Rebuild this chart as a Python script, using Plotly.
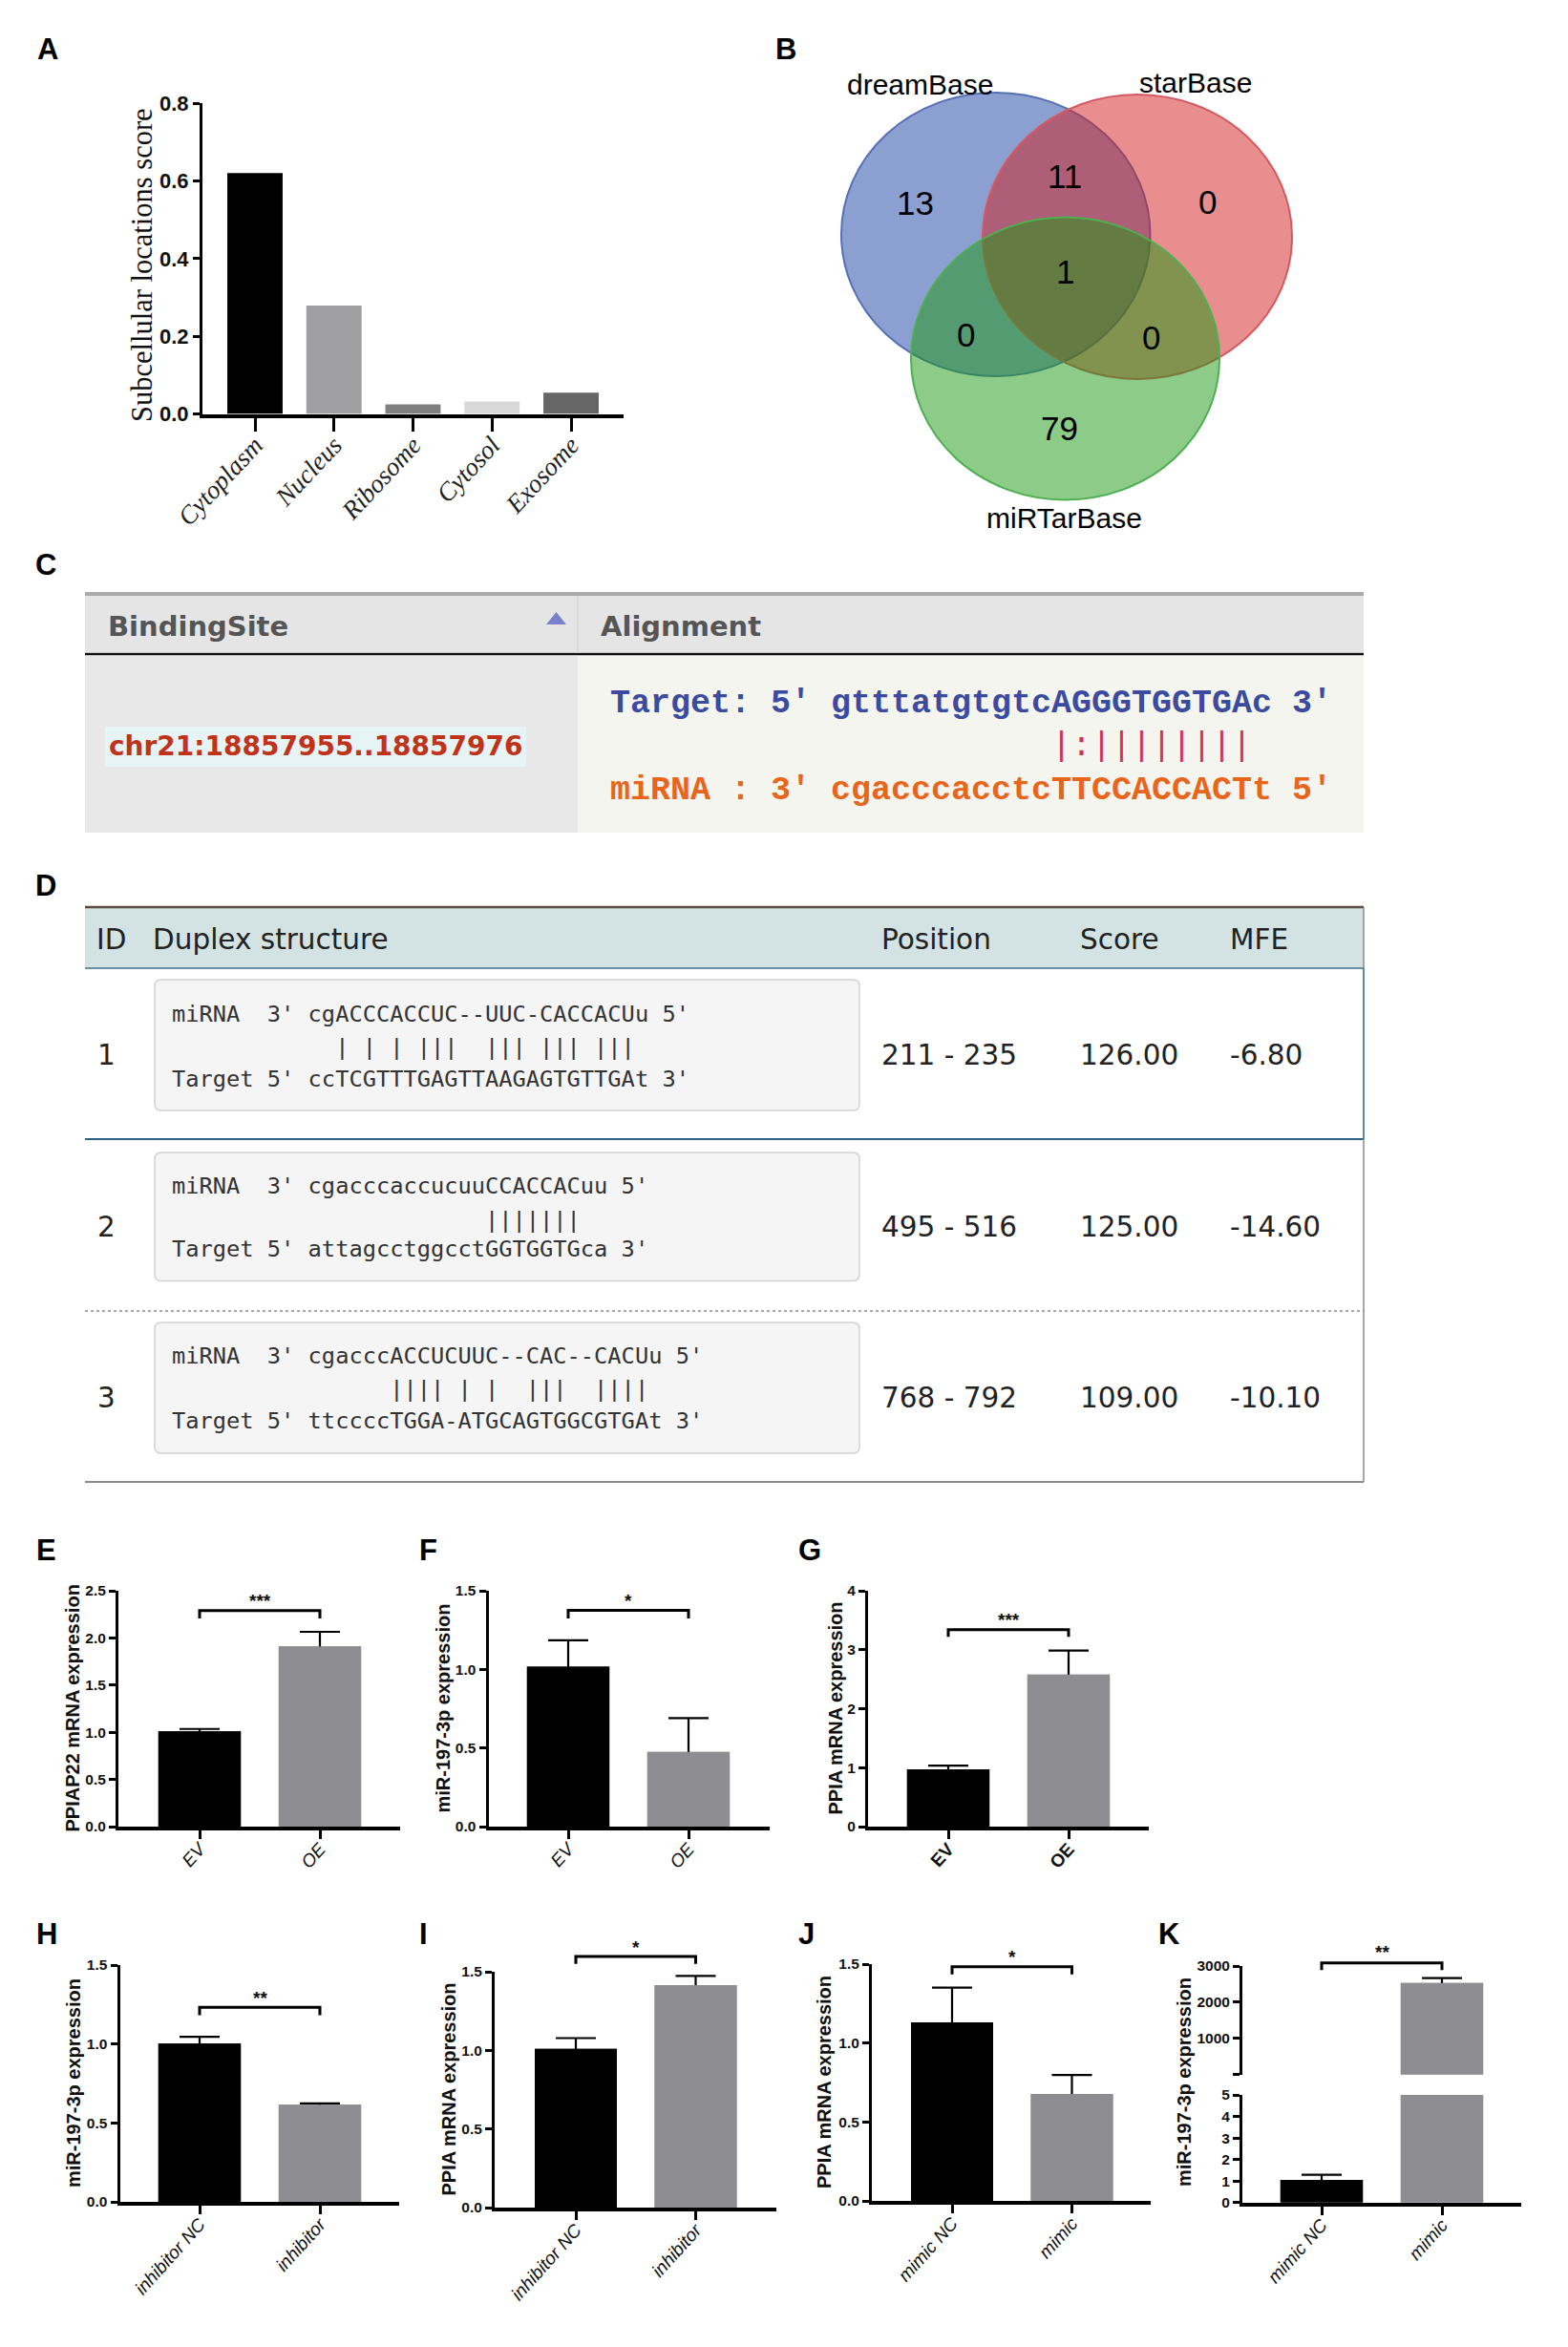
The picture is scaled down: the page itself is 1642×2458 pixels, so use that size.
"""Painéis A-K: barras de expressão, Venn e tabelas de alinhamento."""

import plotly.graph_objects as go

W, H = 1642, 2458
SANS = "Liberation Sans"
SERIF = "Liberation Serif"
MONO = "DejaVu Sans Mono"
BLACK = "#000000"
GREY = "#8e8e92"
BRACKET_ROOM = 70    # px acima do eixo reservados a colchetes e asteriscos

# --- painel A
A_CATS = ["Cytoplasm", "Nucleus", "Ribosome", "Cytosol", "Exosome"]
A_VALUES = [0.62, 0.279, 0.025, 0.032, 0.055]
A_COLORS = [BLACK, "#a0a0a3", "#808080", "#d9d9d9", "#666666"]
A_TICKS = [0, 0.2, 0.4, 0.6, 0.8]

# --- painel B
VENN_NAMES = ["dreamBase", "starBase", "miRTarBase"]
VENN_COUNTS = ["13", "11", "0", "1", "0", "0", "79"]

# --- painel C
C_HEADERS = ["BindingSite", "Alignment"]
C_SITE = "chr21:18857955..18857976"
C_TARGET = "Target: 5' gtttatgtgtcAGGGTGGTGAc 3'"
C_PAIRS = "                      |:||||||||"
C_MIRNA = "miRNA : 3' cgacccacctcTTCCACCACTt 5'"

# --- painel D
D_HEADERS = ["ID", "Duplex structure", "Position", "Score", "MFE"]
D_IDS = ["1", "2", "3"]
D_MIRNA = ["miRNA  3' cgACCCACCUC--UUC-CACCACUu 5'",
           "miRNA  3' cgacccaccucuuCCACCACuu 5'",
           "miRNA  3' cgacccACCUCUUC--CAC--CACUu 5'"]
D_PAIRS = ["            | | | |||  ||| ||| |||",
           "                       |||||||",
           "                |||| | |  |||  ||||"]
D_TARGET = ["Target 5' ccTCGTTTGAGTTAAGAGTGTTGAt 3'",
            "Target 5' attagcctggcctGGTGGTGca 3'",
            "Target 5' ttccccTGGA-ATGCAGTGGCGTGAt 3'"]
D_POSITION = ["211 - 235", "495 - 516", "768 - 792"]
D_SCORE = ["126.00", "125.00", "109.00"]
D_MFE = ["-6.80", "-14.60", "-10.10"]

# --- painéis E-K
OE_CATS = ["EV", "OE"]
INH_CATS = ["inhibitor NC", "inhibitor"]
MIM_CATS = ["mimic NC", "mimic"]
T25 = [0, 0.5, 1.0, 1.5, 2.0, 2.5]
T15 = [0, 0.5, 1.0, 1.5]
T4 = [0, 1, 2, 3, 4]

E_VALUES, E_ERRORS = [1.01, 1.91], [0.025, 0.155]
E_BRACKET = [2.207, 2.29]
F_VALUES, F_ERRORS = [1.017, 0.475], [0.168, 0.215]
F_BRACKET = [1.324, 1.375]
G_VALUES, G_ERRORS = [0.97, 2.577], [0.065, 0.41]
G_BRACKET = [3.22, 3.34]
H_VALUES, H_ERRORS = [1.003, 0.616], [0.043, 0.008]
H_BRACKET = [1.183, 1.232]
I_VALUES, I_ERRORS = [1.009, 1.415], [0.069, 0.059]
I_BRACKET = [1.55, 1.597]
J_VALUES, J_ERRORS = [1.131, 0.677], [0.22, 0.121]
J_BRACKET = [1.435, 1.484]
K_VALUES, K_ERRORS = [1.05, 2534], [0.237, 132]
K_BRACKET = [2886, 3088]
K_LOW_TICKS = [0, 1, 2, 3, 4, 5]
K_HIGH_TICKS = [0, 1000, 2000, 3000]
K_HIGH_LABELS = ["", "1000", "2000", "3000"]


def fx(px):
    return px / W


def fy(py):
    return 1 - py / H


def nb(text):
    return text.replace(" ", "\u00a0")


fig = go.Figure()
shapes = []
notes = []
axis_no = 0


def txt(x, y, text, size, color="#000000", family=SANS, weight="normal",
        anchor="center", angle=0, style="normal"):
    notes.append(dict(
        x=fx(x), y=fy(y), xref="paper", yref="paper", text=text, showarrow=False,
        xanchor=anchor, yanchor="middle", textangle=angle, borderpad=0,
        font=dict(size=size, color=color, family=family, weight=weight, style=style)))


def rect(x0, y0, x1, y1, fill, line=None, width=0):
    shapes.append(dict(
        type="rect", xref="paper", yref="paper", layer="below",
        x0=fx(x0), x1=fx(x1), y0=fy(y0), y1=fy(y1), fillcolor=fill,
        line=dict(color=line or fill, width=width)))


def hline(x0, x1, y, color, width, dash="solid"):
    shapes.append(dict(
        type="line", xref="paper", yref="paper",
        x0=fx(x0), x1=fx(x1), y0=fy(y), y1=fy(y),
        line=dict(color=color, width=width, dash=dash)))


def vline(x, y0, y1, color, width):
    shapes.append(dict(
        type="line", xref="paper", yref="paper",
        x0=fx(x), x1=fx(x), y0=fy(y0), y1=fy(y1),
        line=dict(color=color, width=width)))


def round_box(x0, y0, x1, y1, r=7):
    pts = (f"M {fx(x0 + r)} {fy(y0)} L {fx(x1 - r)} {fy(y0)} "
           f"Q {fx(x1)} {fy(y0)} {fx(x1)} {fy(y0 + r)} L {fx(x1)} {fy(y1 - r)} "
           f"Q {fx(x1)} {fy(y1)} {fx(x1 - r)} {fy(y1)} L {fx(x0 + r)} {fy(y1)} "
           f"Q {fx(x0)} {fy(y1)} {fx(x0)} {fy(y1 - r)} L {fx(x0)} {fy(y0 + r)} "
           f"Q {fx(x0)} {fy(y0)} {fx(x0 + r)} {fy(y0)} Z")
    shapes.append(dict(type="path", path=pts, xref="paper", yref="paper",
                       layer="below", fillcolor="#f5f5f5",
                       line=dict(color="#d2d2d2", width=1.5)))


def new_axes(left, right, top, bottom, x_range, y_range):
    """Cria um par de eixos na caixa em pixels; devolve os nomes."""
    global axis_no
    axis_no += 1
    n = "" if axis_no == 1 else str(axis_no)
    fig.update_layout(**{
        f"xaxis{n}": dict(domain=[fx(left), fx(right)], range=x_range,
                          anchor=f"y{n}", type="linear", showgrid=False,
                          zeroline=False, automargin=False),
        f"yaxis{n}": dict(domain=[fy(bottom), fy(top)], range=y_range,
                          anchor=f"x{n}", showgrid=False, zeroline=False,
                          automargin=False),
    })
    return f"xaxis{n}", f"yaxis{n}", f"x{n}", f"y{n}"


def style_axes(xa, ya, cats, ticks, labels, tick_font, cat_font, x_len, angle=-48,
               label_pull=-8):
    fig.update_layout(**{
        xa: dict(showline=True, linecolor="#000", linewidth=4, ticks="outside",
                 ticklen=x_len, tickwidth=3, tickcolor="#000",
                 tickmode="array", tickvals=list(range(len(cats))), ticktext=cats,
                 tickangle=angle, tickfont=cat_font, ticklabelstandoff=label_pull),
        ya: dict(showline=True, linecolor="#000", linewidth=3, ticks="outside",
                 ticklen=7, tickwidth=3, tickcolor="#000",
                 tickmode="array", tickvals=ticks, ticktext=labels,
                 tickfont=tick_font),
    })


def add_bars(xs, values, errors, colors, xr, yr, headroom):
    """Barra com erro e, por cima, a mesma barra: esconde a base do erro."""
    fig.add_trace(go.Bar(
        x=xs, y=values, width=0.685, marker=dict(color=colors, line_width=0),
        error_y=dict(type="data", symmetric=False, array=errors,
                     arrayminus=[headroom] * len(xs),
                     color="#000", thickness=2.2, width=21),
        xaxis=xr, yaxis=yr, showlegend=False, hoverinfo="skip"))
    fig.add_trace(go.Bar(
        x=xs, y=values, width=0.685, marker=dict(color=colors, line_width=0),
        xaxis=xr, yaxis=yr, showlegend=False, hoverinfo="skip"))


def add_bracket(x_range, box, top_value, bracket, stars, star_level):
    """Colchete num par de eixos ocultos, com folga acima do eixo visível."""
    left, right, top, bottom = box
    span = bottom - top
    xa, ya, xr, yr = new_axes(left, right, top - BRACKET_ROOM, bottom, x_range,
                              [0, top_value * (span + BRACKET_ROOM) / span])
    fig.update_layout(**{xa: dict(visible=False), ya: dict(visible=False)})
    fig.add_trace(go.Scatter(
        x=[0, 0, 1, 1], y=[bracket[0], bracket[1], bracket[1], bracket[0]],
        mode="lines", line=dict(color="#000", width=3), xaxis=xr, yaxis=yr,
        showlegend=False, hoverinfo="skip"))
    fig.add_annotation(x=0.5, y=star_level, xref=xr, yref=yr, text=stars,
                       showarrow=False, yanchor="middle",
                       font=dict(family=SANS, size=19, weight="bold", color="#111"))


def bar_panel(box, centers, cats, values, errors, bracket, stars, ticks, title,
              title_x, bold_cats=False):
    left, right, top, bottom = box
    step = centers[1] - centers[0]
    x_range = [(left - centers[0]) / step, (right - centers[0]) / step]
    xa, ya, xr, yr = new_axes(left, right, top, bottom, x_range, [0, ticks[-1]])
    add_bars([0, 1], values, errors, [BLACK, GREY], xr, yr, ticks[-1] * 0.03)
    labels = [f"{t:.1f}" if ticks[-1] != 4 else str(t) for t in ticks]
    cat_font = dict(family=SANS, size=19, color="#111",
                    weight="bold" if bold_cats else "normal",
                    style="normal" if bold_cats else "italic")
    tick_font = dict(family=SANS, size=15.5, color="#111", weight="bold")
    style_axes(xa, ya, cats, ticks, labels, tick_font, cat_font, 9)
    txt(title_x, (top + bottom) / 2, title, 20, "#111111", SANS, "bold", angle=-90)
    add_bracket(x_range, box, ticks[-1], bracket, stars, bracket[1] + ticks[-1] * 0.04)


# ── Painel A ──────────────────────────────────────────────────────────
centers_a = 82.75
xa, ya, xr, yr = new_axes(212, 653, 108, 433.6,
                          [(212 - 267) / centers_a, (653 - 267) / centers_a], [0, 0.8])
fig.add_trace(go.Bar(x=list(range(5)), y=A_VALUES, width=0.7,
                     marker=dict(color=A_COLORS, line_width=0),
                     xaxis=xr, yaxis=yr, showlegend=False, hoverinfo="skip"))
style_axes(xa, ya, A_CATS, A_TICKS, [f"{t:.1f}" for t in A_TICKS],
           dict(family=SANS, size=22, weight="bold", color="#111"),
           dict(family=SERIF, size=27, style="italic", color="#222"), 14, angle=-47,
           label_pull=-12)
txt(149, 278, "Subcellular locations score", 30.5, "#111111", SERIF, angle=-90)

# ── Painel B ──────────────────────────────────────────────────────────
for box, fill, edge in (
        ((881, 97, 1204.5, 394), "rgba(25,63,163,0.5)", "#5570b5"),
        ((1029, 99, 1353, 397), "rgba(209,29,29,0.5)", "#d65860"),
        ((954, 227.5, 1277, 523.5), "rgba(27,151,17,0.5)", "#4caf50")):
    shapes.append(dict(type="circle", xref="paper", yref="paper",
                       x0=fx(box[0]), x1=fx(box[2]), y0=fy(box[1]), y1=fy(box[3]),
                       fillcolor=fill, line=dict(color=edge, width=2)))
for name, x, y in zip(VENN_NAMES, (964, 1252, 1114), (88, 87, 542)):
    txt(x, y, name, 30)
for count, x, y in zip(VENN_COUNTS, (958, 1115, 1264, 1115, 1011, 1205, 1109),
                       (213, 185, 211, 284, 351, 354, 448)):
    txt(x, y, count, 35)

# ── Painel C ──────────────────────────────────────────────────────────
rect(89, 622, 1428, 683, "#e5e5e5")
rect(89, 687, 605, 872, "#e8e8e8")
rect(605, 687, 1428, 872, "#f5f5f0")
hline(89, 1428, 622, "#aaaaaa", 4)
hline(89, 1428, 685, "#111111", 2.5)
vline(605, 624, 684, "#cfcfcf", 1)
rect(110, 761, 551, 803, "#e6f4f5")
shapes.append(dict(type="path", xref="paper", yref="paper", fillcolor="#7a80cc",
                   line_width=0,
                   path=f"M {fx(572)} {fy(654)} L {fx(593)} {fy(654)} L {fx(582.5)} {fy(641)} Z"))
txt(112, 656, C_HEADERS[0], 29, "#555555", "DejaVu Sans", "bold", "left")
txt(628, 656, C_HEADERS[1], 29, "#555555", "DejaVu Sans", "bold", "left")
txt(113, 782, C_SITE, 28, "#c0331a", "DejaVu Sans", "bold", "left")
txt(638, 737, nb(C_TARGET), 35, "#3b4ba0", "Liberation Mono", "bold", "left")
txt(638, 782, nb(C_PAIRS), 35, "#cc3355", "Liberation Mono", "normal", "left")
txt(638, 828, nb(C_MIRNA), 35, "#e8651c", "Liberation Mono", "bold", "left")

# ── Painel D ──────────────────────────────────────────────────────────
rect(89, 951, 1428, 1014, "#d3e3e3")
hline(89, 1428, 950, "#5a4a42", 2.5)
hline(89, 1428, 1014, "#3e6e8e", 1.5)
hline(89, 1428, 1193, "#2e5f82", 2)
hline(89, 1428, 1373, "#8a8a8a", 1.5, "dot")
hline(89, 1428, 1552, "#8a8a8a", 2)
vline(1428, 950, 1014, "#8a8a8a", 1.5)
vline(1428, 1014, 1193, "#2e5f82", 1.5)
vline(1428, 1193, 1552, "#8a8a8a", 1.5)
for x, label in zip((100, 159, 922, 1130, 1287), D_HEADERS):
    txt(x, 984, label, 29.5, "#222222", "DejaVu Sans", anchor="left")
ROW_BOX = ((1026, 1163), (1207, 1341.5), (1385, 1522))
ROW_Y = (1105, 1285, 1464)
LINE_Y = ((1062, 1097, 1130), (1242, 1278, 1308), (1420, 1455, 1488))
for i in range(3):
    round_box(162, ROW_BOX[i][0], 900, ROW_BOX[i][1])
    txt(101, ROW_Y[i], D_IDS[i], 29.5, "#222222", "DejaVu Sans", anchor="left")
    txt(922, ROW_Y[i], D_POSITION[i], 29.5, "#222222", "DejaVu Sans", anchor="left")
    txt(1130, ROW_Y[i], D_SCORE[i], 29.5, "#222222", "DejaVu Sans", anchor="left")
    txt(1287, ROW_Y[i], D_MFE[i], 29.5, "#222222", "DejaVu Sans", anchor="left")
    for line, y in zip((D_MIRNA[i], D_PAIRS[i], D_TARGET[i]), LINE_Y[i]):
        txt(179, y, nb(line), 23.7, "#333333", MONO, anchor="left")

# ── Painéis E-J ───────────────────────────────────────────────────────
bar_panel((124, 419, 1666, 1913), (209, 335), OE_CATS, E_VALUES, E_ERRORS, E_BRACKET,
          "***", T25, "PPIAP22 mRNA expression", 75)
bar_panel((511.5, 805.5, 1666, 1913), (595, 721), OE_CATS, F_VALUES, F_ERRORS, F_BRACKET,
          "*", T15, "miR-197-3p expression", 463)
bar_panel((909, 1203, 1666, 1913), (993, 1119), OE_CATS, G_VALUES, G_ERRORS, G_BRACKET,
          "***", T4, "PPIA mRNA expression", 874, bold_cats=True)
bar_panel((125.5, 418, 2058, 2306), (209, 335), INH_CATS, H_VALUES, H_ERRORS, H_BRACKET,
          "**", T15, "miR-197-3p expression", 77)
bar_panel((518, 813, 2065, 2312), (603, 728.5), INH_CATS, I_VALUES, I_ERRORS, I_BRACKET,
          "*", T15, "PPIA mRNA expression", 469)
bar_panel((913, 1205, 2057, 2305), (997, 1122.5), MIM_CATS, J_VALUES, J_ERRORS, J_BRACKET,
          "*", T15, "PPIA mRNA expression", 863)

# ── Painel K (eixo quebrado) ──────────────────────────────────────────
k_step = 1510 - 1384
k_range = [(1301 - 1384) / k_step, (1593 - 1384) / k_step]
xa, ya, xr, yr = new_axes(1301, 1593, 2194, 2306.7, k_range, [0, 5])
add_bars([0, 1], K_VALUES, [K_ERRORS[0], 0], [BLACK, GREY], xr, yr, 0.1)
style_axes(xa, ya, MIM_CATS, K_LOW_TICKS, [str(t) for t in K_LOW_TICKS],
           dict(family=SANS, size=15.5, weight="bold", color="#111"),
           dict(family=SANS, size=19, style="italic", color="#111"), 9)

k_high_box = (1301, 1593, 2059, 2172.7)
xa2, ya2, xr2, yr2 = new_axes(*k_high_box, k_range, [0, 3000])
add_bars([1], K_VALUES[1:], K_ERRORS[1:], GREY, xr2, yr2, 80)
fig.update_layout(**{
    xa2: dict(visible=False),
    ya2: dict(showline=True, linecolor="#000", linewidth=3, ticks="outside", ticklen=7,
              tickwidth=3, tickcolor="#000", tickmode="array", tickvals=K_HIGH_TICKS,
              ticktext=K_HIGH_LABELS,
              tickfont=dict(family=SANS, size=15.5, weight="bold", color="#111")),
})
add_bracket(k_range, k_high_box, 3000, K_BRACKET, "**", 3370)
txt(1240, 2181, "miR-197-3p expression", 20, "#111111", SANS, "bold", angle=-90)

# ── Letras dos painéis ────────────────────────────────────────────────
for letter, x, y in (("A", 50, 52), ("B", 823, 52), ("C", 48, 591), ("D", 48, 927),
                     ("E", 48, 1623), ("F", 449, 1623), ("G", 848, 1623),
                     ("H", 49, 2025), ("I", 443, 2025), ("J", 844, 2025),
                     ("K", 1224, 2025)):
    txt(x, y, letter, 31, "#000000", SANS, "bold")

fig.update_layout(
    template="none", barmode="overlay",
    width=W, height=H, margin=dict(l=0, r=0, t=0, b=0),
    plot_bgcolor="rgba(0,0,0,0)", paper_bgcolor="white", showlegend=False,
    shapes=shapes, annotations=list(fig.layout.annotations) + notes)

fig.write_html("out.html", config={"displayModeBar": False},
               post_script="document.body.style.margin='0';")
